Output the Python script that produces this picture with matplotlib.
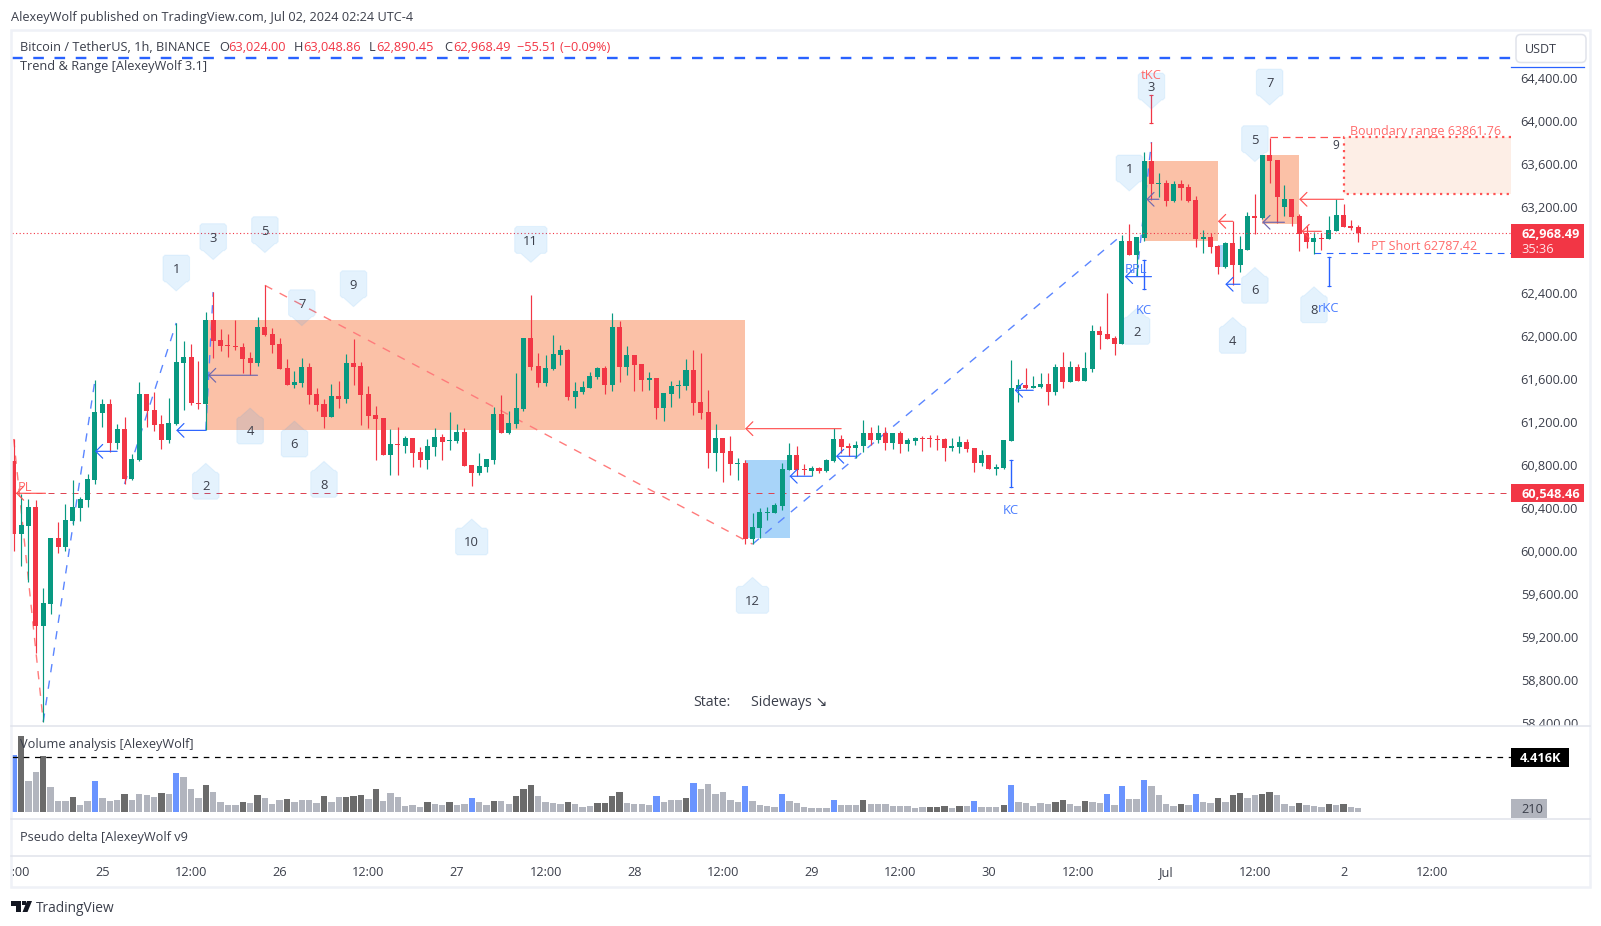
import numpy as np
import matplotlib
matplotlib.use('Agg')
from matplotlib import pyplot as plt
from matplotlib.patches import Polygon, Rectangle, FancyBboxPatch
from matplotlib.transforms import IdentityTransform, ScaledTranslation

plt.rcParams['font.family'] = ['Open Sans', 'DejaVu Sans']

W, H = 1601, 926

# candles, hourly from Jun 24 12:00. top/bot are the body edges, dirs G=up R=down
highs = [61054,60542,60492,60486,59664,60132,60281,60449,60672,60514,60725,61603,61426,61426,61193,61259,60914,61584,61473,61491,
 61277,61435,62134,61966,61938,61780,62236,62422,62078,62031,62162,61947,61864,62189,62484,62087,61994,61798,61687,61808,
 61761,61529,61426,61566,61594,61845,61985,61771,61547,61361,61249,61147,61165,61082,61063,60979,61054,61156,61100,61305,
 61194,61156,60812,60924,60868,61352,61463,61315,61668,61994,62394,61854,61836,62022,61929,61892,61584,61594,61678,61724,
 61733,62227,62152,61920,61836,61752,61678,61622,61482,61594,61603,61799,61882,61854,61510,61194,61063,61082,60877,60858,
 60361,60410,60420,60457,60829,61016,60988,60820,60801,60792,60867,61152,61090,61016,61034,61230,61164,61183,61164,61109,
 61127,61062,61071,61081,61090,61090,61062,61062,61081,61053,60969,60950,60904,60820,61043,61789,61612,61715,61640,61668,
 61668,61752,61864,61780,61752,61864,62115,62106,62413,62013,62952,63054,62933,63725,63818,63529,63464,63455,63464,63427,
 63315,62998,62971,62859,62887,63079,62943,63166,63334,63697,63852,63650,63417,63287,63147,63036,62980,62971,63129,63284,
 63241,63092,63048.86]
tops = [60849,60253,60421,60421,59527,60132,60132,60300,60421,60495,60681,61305,61380,61380,61147,61147,60868,61473,61473,61324,
 61193,61203,61771,61817,61817,61389,62162,62162,61975,61929,61920,61910,61808,62096,62096,62031,61938,61715,61584,61724,
 61724,61473,61380,61454,61454,61761,61761,61733,61473,61277,61249,61007,61007,61063,61063,60933,60989,61072,61072,61045,
 61119,61119,60812,60803,60868,61287,61287,61203,61342,61994,61994,61733,61715,61845,61882,61882,61501,61538,61640,61715,
 61715,62096,62096,61836,61836,61752,61622,61622,61482,61547,61557,61696,61696,61398,61305,61063,61063,60942,60830,60830,
 60234,60373,60373,60438,60773,60904,60904,60773,60783,60783,60857,61053,61053,60988,60997,61109,61109,61109,61109,61109,
 61109,61043,61062,61062,61062,61053,61053,60988,61025,61025,60969,60904,60904,60792,61043,61529,61556,61556,61547,61566,
 61566,61724,61724,61724,61724,61715,62059,62059,62031,61994,62896,62896,62933,63641,63641,63436,63436,63427,63427,63399,
 63278,62933,62933,62850,62877,62877,62822,63129,63129,63697,63697,63650,63287,63287,63129,62971,62924,62924,62998,63138,
 63138,63036,63024]
bots = [60169,60169,60244,59313,59313,59518,60048,60048,60290,60411,60486,60672,61296,61017,61017,60681,60681,60858,61314,61184,
 61044,61044,61193,61761,61389,61380,61380,61966,61920,61920,61910,61798,61761,61761,62022,61929,61705,61556,61556,61575,
 61463,61370,61259,61259,61426,61426,61724,61463,61268,61240,60905,60905,60998,60989,60924,60858,60858,60979,61026,61035,
 61035,60803,60737,60737,60793,60858,61110,61110,61194,61333,61724,61575,61575,61705,61836,61445,61445,61491,61529,61631,
 61557,61557,61724,61724,61743,61603,61603,61342,61342,61473,61547,61547,61389,61296,60924,60924,60924,60821,60821,60123,
 60122,60224,60364,60364,60429,60764,60764,60764,60755,60755,60755,60848,60978,60969,60969,60988,61043,61043,61016,61016,
 61006,61006,61034,61053,61053,61043,60969,60969,60978,60960,60829,60829,60773,60773,60783,61034,61519,61529,61529,61538,
 61491,61491,61584,61584,61594,61594,61705,62022,61985,61938,61937,62766,62766,62924,63427,63427,63268,63268,63389,63268,
 62915,62915,62840,62654,62654,62673,62673,62812,63110,63110,63641,63306,63213,63119,62961,62887,62887,62915,62915,62989,
 63026,63017,62968.49]
lows = [60014,59872,59723,59059,58422,59425,59993,60011,60253,60290,60421,60635,61165,60933,60961,60635,60672,60849,61165,61128,
 60961,61017,61184,61324,61370,61333,61138,61808,61873,61817,61882,61668,61650,61733,62013,61854,61705,61556,61529,61538,
 61380,61314,61156,61259,61342,61389,61556,61184,61156,60858,60905,60719,60719,60924,60793,60793,60775,60896,60858,60951,
 61017,60803,60616,60719,60747,60821,61110,61100,61156,61315,61696,61538,61547,61696,61743,61417,61342,61473,61529,61612,
 61473,61501,61584,61650,61501,61501,61510,61240,61221,61352,61436,61510,61277,61240,60784,60756,60654,60719,60672,60076,
 60075,60131,60299,60364,60392,60764,60708,60718,60708,60736,60746,60839,60922,60895,60876,60932,60997,61016,60950,60960,
 60922,60941,60997,60941,60978,60950,60848,60941,60922,60932,60746,60801,60773,60718,60773,61034,61398,61519,61529,61529,
 61370,61463,61529,61584,61594,61594,61677,61892,61985,61836,61937,62766,62570,62896,63278,63306,63222,63259,63278,63259,
 62840,62784,62784,62589,62645,62486,62607,62812,62961,63101,63436,63067,63129,63036,62803,62831,62775,62812,62915,62989,
 63026,62998,62890.45]
dirs = ('RGGRGGRGGG' 'GGGRGRGGRR' 'RGGGRRGRRR' 'RRRGRRRRGG' 'RRRGRGRRRR' 'RGRGRRGGRG' 'GRRGGGRGGG' 'RRGGGRGGGG' 'RGRGRRGRGG'
        'GGRRRGRRGR' 'GGGGGGRRGR' 'GGRRGGRGRG' 'RGGRRRRGGR' 'RGRGGGGRGG' 'RGRGRGGRRR' 'GRGGRGRGRR' 'RGRRGRGGRG' 'RRGRRRGRGG' 'RRR')

volumes = [4610,6187,2452,3199,4527,1954,791,791,1123,459,791,2452,1040,791,874,1372,874,1372,1289,1123,
 1455,1372,3116,2784,1788,1040,2120,1538,708,459,459,708,625,1289,1040,542,874,957,708,874,
 874,625,1206,708,1123,1123,1206,1289,957,1788,791,1455,1123,376,459,293,708,542,459,708,
 459,542,1040,708,459,791,791,542,1206,1788,2120,1206,708,625,542,708,542,293,376,625,
 625,1206,1538,625,542,542,459,1206,708,874,874,1040,2286,1788,2203,1372,1538,874,708,2037,
 791,459,376,293,1372,791,625,293,210,210,210,874,459,459,459,874,542,542,542,376,
 376,376,210,293,293,293,376,210,376,376,791,293,293,293,459,2120,708,625,376,625,
 542,708,874,542,376,791,708,625,1372,459,2037,957,957,2535,2037,1289,542,376,542,459,
 1372,708,625,1040,708,1289,1455,1040,1289,1372,1538,1289,542,376,625,459,376,293,542,459,
 542,293,210]
vol_kinds = ('BDLLDLLLDL' 'LBLLLDLLLL' 'DLBLLLDLLL' 'LDLDLLLDLL' 'LLDLLDDDLD' 'LLLLLLDLLD' 'LLBLLDLLDD' 'DLLLLDLLLD' 'DDDLLLLBLL'
             'LDBLLLLLLB' 'LLLLBLLLLL' 'LBLLLDLLLL' 'LLLLDDDLDL' 'BLLLDBLLLL' 'LDDLLDLLBL' 'BLLBLLLLDL' 'BLLDLDDLLD' 'DLLLDLLLDL' 'DLL')

price_ticks = [58400,58800,59200,59600,60000,60400,60800,61200,61600,62000,62400,63200,63600,64000,64400]
time_ticks = list(range(0, 193, 12))
time_labels = ['12:00','25','12:00','26','12:00','27','12:00','28','12:00','29','12:00','30','12:00','Jul','12:00','2','12:00']

# pins: label, bar, price at the tip
pins_above = [('1',22,62431),('3',27,62723),('5',34,62788),('7',39,62108),('9',46,62285),('11',70,62697),
              ('1',151,63362),('3',154,64125),('5',168,63635),('7',170,64162)]
pins_below = [('2',26,60828),('4',32,61342),('6',38,61221),('8',42,60846),('10',62,60309),('12',100,59766),
              ('2',152,62270),('4',165,62186),('6',168,62652),('8',176,62471)]

# zones: bar from, bar to, price top, price bottom
orange_zones = [(26,99.05,62162,61138),(153,163,63641,62897),(169,174,63697,63055)]
blue_zones = [(99,105.05,60858,60132),(163,164,62860,62654)]

blue_swing = [[(4,58422),(11,61603)],[(15,60635),(22,62134)],[(26,61138),(27,62422)],[(100,60075),(150,62952)],[(152,62570),(154,63818)]]
red_swing = [[(0,61054),(4,58422)],[(34,62484),(100,60075)]]

# arrows: head bar, tail bar, price
blue_arrows = [(11,14,60939),(22,26,61134),(105,108,60707),(111.3,114,60893),(135.5,138,61507),(150.4,154,62565),(164,166,62494)]
purple_arrows = [(26.3,33,61647),(153.3,155,63285),(169,172,63071)]
red_arrows = [(0.3,4.3,60548.46),(99,112,61150),(163,165,63080),(174,180,63285),(174.3,177,62987)]

# key candle markers: bar, low end, high end
kc_blue = [(135,60604,60858),(153,62452,62720),(178,62480,62745)]
kc_red = [(154,63995,64258)]

pl_price = 60548.46
last_price = 62968.49
pt_short = 62787.42
boundary_top = 63861.76
boundary_bot = 63334
top_line = 64603
vol_line = 4416

GREEN = '#089981'
RED = '#F23645'
BLUE = '#2962FF'
TXT = '#3b3f4b'
GRID = '#E0E3EB'


def px_axes(l, t, r, b):
    return fig.add_axes([l / W, 1 - b / H, (r - l) / W, (b - t) / H])


def px_text(x, y, s, **kw):
    kw.setdefault('fontsize', 9.2)
    kw.setdefault('color', TXT)
    kw.setdefault('va', 'center')
    return fig.text(x / W, 1 - (y + 1.3) / H, s, **kw)


def px_box(l, t, r, b, **kw):
    fig.add_artist(Rectangle((l / W, 1 - b / H), (r - l) / W, (b - t) / H, transform=fig.transFigure, **kw))


def bare(ax):
    for s in ax.spines.values():
        s.set_visible(False)
    ax.set_xticks([])
    ax.set_yticks([])


def pin(ax, label, bar, price, above):
    tx, ty = ax.transData.transform((bar, price))
    hw = 16.2 if len(label) > 1 else 13.3
    s = 1 if above else -1
    c = 2.0
    pts = [(0, 0), (10, 9), (hw - c, 9), (hw, 9 + c), (hw, 36 - c), (hw - c, 36),
           (-hw + c, 36), (-hw, 36 - c), (-hw, 9 + c), (-hw + c, 9), (-10, 9)]
    pts = [(tx + a, ty + s * b) for a, b in pts]
    ax.add_patch(Polygon(pts, closed=True, transform=IdentityTransform(), facecolor=(0.13, 0.59, 0.95, 0.12),
                         edgecolor=(0.13, 0.59, 0.95, 0.08), lw=0.8, zorder=6))
    ax.text(tx, ty + s * 22.4 - 1.3, label, transform=IdentityTransform(), ha='center', va='center',
            fontsize=9.4, color=TXT, zorder=7)


def arrow(ax, head, tail, price, color):
    ax.annotate('', xy=(head, price), xytext=(tail, price), zorder=5,
                arrowprops=dict(arrowstyle='->,head_length=0.55,head_width=0.55', mutation_scale=9,
                                color=color, lw=0.85, shrinkA=0, shrinkB=0))


fig = plt.figure(figsize=(W / 100, H / 100), dpi=100, facecolor='white')

# main pane
ax = px_axes(11.5, 30, 1511, 726)
bare(ax)
x_of = lambda px: (px - 13.7) / 7.388
ax.set_xlim(x_of(11.5), x_of(1511))
ax.set_ylim(58382.3, 64860.8)

for b0, b1, pt, pb in orange_zones:
    ax.add_patch(Rectangle((b0, pb), b1 - b0, pt - pb, facecolor='#FBC1A7', edgecolor='none', zorder=1))
for b0, b1, pt, pb in blue_zones:
    ax.add_patch(Rectangle((b0, pb), b1 - b0, pt - pb, facecolor='#A8D4F9', edgecolor='none', zorder=1))

# boundary range box
rb = x_of(1511)
ax.add_patch(Rectangle((180, boundary_bot), rb - 180, boundary_top - boundary_bot, facecolor='#FDEEE6', edgecolor='none', zorder=1))
ax.plot([rb, 180, 180, rb], [boundary_top, boundary_top, boundary_bot, boundary_bot], color='#FF5252', lw=1.6,
        ls=(0, (1, 2)), zorder=2)
ax.plot([170, 180], [boundary_top, boundary_top], color='#FF5252', lw=0.9, ls=(0, (6, 4)), zorder=2)

for seg in blue_swing:
    ax.plot(*zip(*seg), color='#5B86FF', lw=1.0, ls=(0, (6, 6)), zorder=2)
for seg in red_swing:
    ax.plot(*zip(*seg), color='#FF7B7B', lw=1.0, ls=(0, (6, 6)), zorder=2)

ax.plot([x_of(11.5), rb], [top_line, top_line], color=BLUE, lw=1.7, ls=(0, (4.5, 4.5)), zorder=2, clip_on=False)
ax.axhline(pl_price, color='#DE4453', lw=0.72, ls=(0, (6, 6)), zorder=2)
ax.axhline(last_price, color=RED, lw=0.8, ls=(0, (1, 2.2)), zorder=4)
ax.plot([176, rb], [pt_short, pt_short], color=BLUE, lw=0.8, ls=(0, (6, 5)), zorder=2)

# candles
idx = np.arange(len(dirs))
colors = [GREEN if d == 'G' else RED for d in dirs]
ax.vlines(idx, lows, highs, colors=colors, lw=0.85, zorder=3)
heights = np.maximum(np.array(tops) - np.array(bots), 10)
ax.bar(idx, heights, bottom=bots, width=0.68, color=colors, linewidth=0, zorder=3)

for a in blue_arrows:
    arrow(ax, a[0], a[1], a[2], BLUE)
for a in purple_arrows:
    arrow(ax, a[0], a[1], a[2], '#6E68AE')
for a in red_arrows:
    arrow(ax, a[0], a[1], a[2], '#FF5252')

for bar, lo, hi in kc_blue:
    ax.plot([bar, bar], [lo, hi], color=BLUE, lw=1.0, marker='_', ms=3, mew=0.8, zorder=4)
for bar, lo, hi in kc_red:
    ax.plot([bar, bar], [lo, hi], color=RED, lw=0.9, marker='_', ms=3, mew=0.8, zorder=4)

ax.yaxis.tick_right()
ax.set_yticks(price_ticks)
ax.set_yticklabels([f'{p:,.2f}' for p in price_ticks], fontsize=9.2, color=TXT)
ax.tick_params(axis='y', length=0, pad=7)
up_shift = ScaledTranslation(0, 0.9 / 72, fig.dpi_scale_trans)
for t in ax.get_yticklabels():
    t.set_transform(t.get_transform() + up_shift)

fig.canvas.draw()
for label, bar, price in pins_above:
    pin(ax, label, bar, price, True)
for label, bar, price in pins_below:
    pin(ax, label, bar, price, False)

# volume pane
ax_vol = px_axes(11.5, 726, 1590, 819)
bare(ax_vol)
ax_vol.set_xlim(x_of(11.5), x_of(1590))
ax_vol.set_ylim(-703, 7013)
vol_base = -122
vol_map = {'B': '#6A94FF', 'D': '#6B6B6B', 'L': '#B2B5BE'}
ax_vol.bar(idx, np.array(volumes) - vol_base, bottom=vol_base, width=0.86, linewidth=0,
           color=[vol_map[k] for k in vol_kinds])
ax_vol.plot([x_of(11.5), rb], [vol_line, vol_line], color='black', lw=0.9, ls=(0, (4.5, 4.5)))

# delta pane
ax_delta = px_axes(11.5, 819, 1590, 856)
bare(ax_delta)

# time scale
ax_time = px_axes(11.5, 856, 1590, 886.5)
bare(ax_time)
ax_time.set_xlim(x_of(11.5), x_of(1590))
ax_time.set_xticks(time_ticks)
ax_time.set_xticklabels(time_labels, fontsize=9.2, color=TXT)
ax_time.xaxis.tick_top()
ax_time.tick_params(axis='x', length=0, pad=-16.7)
for t in ax_time.get_xticklabels():
    t.set_clip_on(True)
    t.set_clip_box(ax_time.bbox)

# separators and frame
for y in (726, 819, 856):
    fig.add_artist(plt.Line2D([11 / W, 1590 / W], [1 - y / H, 1 - y / H], color=GRID, lw=1.1))
px_box(10.5, 29.5, 1590, 887, facecolor='none', edgecolor='#EFF1F7', lw=1.8)

# header texts
px_text(11, 16.3, 'AlexeyWolf published on TradingView.com, Jul 02, 2024 02:24 UTC-4')
px_text(20, 46.5, 'Bitcoin / TetherUS, 1h, BINANCE')
for x, s in ((219, 'O'), (294, 'H'), (369, 'L'), (444, 'C')):
    px_text(x, 46.5, s)
for x, s in ((228.5, '63,024.00'), (303, '63,048.86'), (376, '62,890.45'), (453, '62,968.49'), (517, '\u221255.51 (\u22120.09%)')):
    px_text(x, 46.5, s, color=RED)
px_text(20, 65, 'Trend & Range [AlexeyWolf 3.1]')
px_text(20, 743, 'Volume analysis [AlexeyWolf]')
px_text(20, 836.7, 'Pseudo delta [AlexeyWolf v9')
px_text(693, 701.5, 'State:', fontsize=10.3)
px_text(751, 701.5, 'Sideways \u2198', fontsize=10.3)

# chart annotations
LRED = '#FF6B6B'
LBLUE = '#4A7DFF'
px_text(24.5, 486, 'PL', color=LRED, ha='center', fontsize=9.4)
px_text(1136, 268.3, 'RPL', color=LBLUE, ha='center', fontsize=9.4)
px_text(1144, 309.3, 'KC', color=LBLUE, ha='center', fontsize=9.4)
px_text(1011, 509.3, 'KC', color=LBLUE, ha='center', fontsize=9.4)
px_text(1328.3, 306.7, 'rKC', color=LBLUE, ha='center', fontsize=9.4)
px_text(1151, 74.5, 'tKC', color=LRED, ha='center', fontsize=9.4)
px_text(1335.7, 144.3, '9', ha='center', fontsize=8.6)
px_text(1349.7, 130.7, 'Boundary range 63861.76', color=LRED, fontsize=9)
px_text(1370.7, 245.7, 'PT Short 62787.42', color=LRED, fontsize=9)

# price scale widgets
fig.add_artist(FancyBboxPatch((1516 / W, 1 - 62.5 / H), 70 / W, 28 / H, boxstyle='round,pad=0,rounding_size=0.003',
                              transform=fig.transFigure, facecolor='white', edgecolor=GRID, lw=1.1,
                              mutation_aspect=W / H))
px_text(1525, 48.5, 'USDT', fontsize=9)
fig.add_artist(plt.Line2D([1511 / W, 1584 / W], [1 - 67.3 / H, 1 - 67.3 / H], color=BLUE, lw=0.9))
px_box(1511, 224, 1584, 257.5, facecolor=RED, edgecolor='none')
px_text(1521, 233, '62,968.49', color='white', fontweight='bold')
px_text(1521, 248, '35:36', color='#FFE3E6')
px_box(1511, 483.5, 1584, 502, facecolor=RED, edgecolor='none')
px_text(1521, 493, '60,548.46', color='white', fontweight='bold')
px_box(1511, 748, 1569, 766.7, facecolor='black', edgecolor='none')
px_text(1520, 757.5, '4.416K', color='white', fontweight='bold')
px_box(1511, 799, 1547, 817.7, facecolor='#B2B5BE', edgecolor='none')
px_text(1521, 808.5, '210')

# footer logo and name
logo_t = [(11, 901), (21, 901), (21, 912), (16, 912), (16, 906), (11, 906)]
logo_s = [(32, 901), (27, 901), (22.5, 912), (27.5, 912)]
logo_d = [(22, 901), (26, 901), (26, 905), (22, 905)]
for shape in (logo_t, logo_s, logo_d):
    fig.add_artist(Polygon([(x / W, 1 - y / H) for x, y in shape], closed=True, transform=fig.transFigure,
                           facecolor='#131722', edgecolor='none'))
px_text(36, 907, 'TradingView', fontsize=9.9)

fig.savefig('out.png', dpi=100, facecolor='white')
